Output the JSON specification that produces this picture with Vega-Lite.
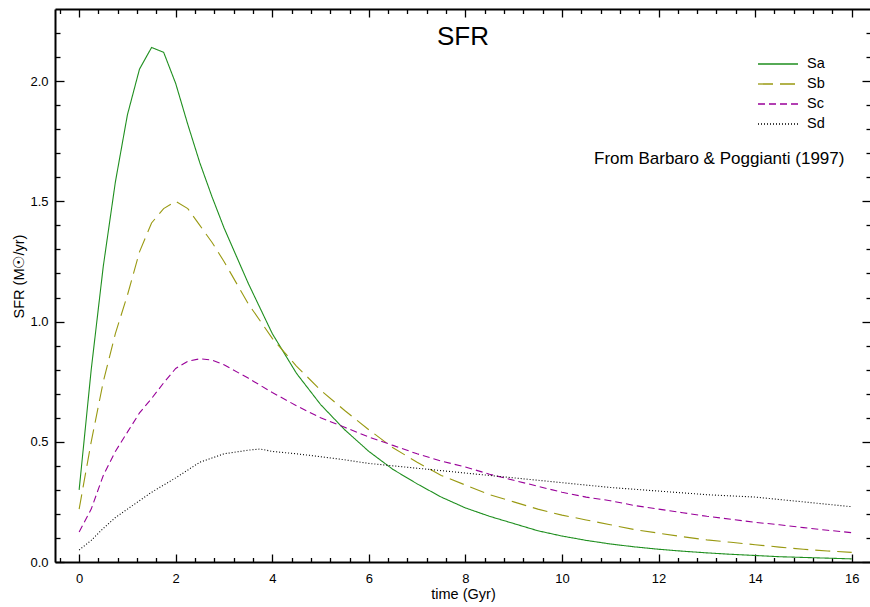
{
  "$schema": "https://vega.github.io/schema/vega-lite/v6.json",
  "width": 816,
  "height": 553,
  "autosize": "none",
  "padding": {"left": 55, "top": 9, "right": 0, "bottom": 45},
  "background": "white",
  "config": {
    "font": "Liberation Sans",
    "view": {"stroke": null},
    "axis": {
      "domainColor": "black",
      "domainWidth": 2,
      "tickColor": "black",
      "tickWidth": 1.3,
      "labelColor": "black",
      "titleColor": "black",
      "labelFontSize": 13,
      "titleFontSize": 14.5,
      "titleFontWeight": "normal",
      "grid": false,
      "labelOverlap": false
    }
  },
  "title": {
    "text": "SFR",
    "fontSize": 26,
    "fontWeight": "normal",
    "anchor": "middle",
    "baseline": "alphabetic",
    "offset": -63,
    "color": "black"
  },
  "data": {
    "values": [
      {"t": 0, "sfr": 0.30, "type": "Sa"},
      {"t": 0.25, "sfr": 0.80, "type": "Sa"},
      {"t": 0.5, "sfr": 1.23, "type": "Sa"},
      {"t": 0.75, "sfr": 1.58, "type": "Sa"},
      {"t": 1.0, "sfr": 1.86, "type": "Sa"},
      {"t": 1.25, "sfr": 2.05, "type": "Sa"},
      {"t": 1.5, "sfr": 2.14, "type": "Sa"},
      {"t": 1.75, "sfr": 2.12, "type": "Sa"},
      {"t": 2.0, "sfr": 1.99, "type": "Sa"},
      {"t": 2.25, "sfr": 1.82, "type": "Sa"},
      {"t": 2.5, "sfr": 1.66, "type": "Sa"},
      {"t": 2.75, "sfr": 1.52, "type": "Sa"},
      {"t": 3.0, "sfr": 1.39, "type": "Sa"},
      {"t": 3.5, "sfr": 1.16, "type": "Sa"},
      {"t": 4.0, "sfr": 0.95, "type": "Sa"},
      {"t": 4.5, "sfr": 0.785, "type": "Sa"},
      {"t": 5.0, "sfr": 0.655, "type": "Sa"},
      {"t": 5.5, "sfr": 0.55, "type": "Sa"},
      {"t": 6.0, "sfr": 0.46, "type": "Sa"},
      {"t": 6.5, "sfr": 0.385, "type": "Sa"},
      {"t": 7.0, "sfr": 0.325, "type": "Sa"},
      {"t": 7.5, "sfr": 0.27, "type": "Sa"},
      {"t": 8.0, "sfr": 0.225, "type": "Sa"},
      {"t": 8.5, "sfr": 0.19, "type": "Sa"},
      {"t": 9.0, "sfr": 0.16, "type": "Sa"},
      {"t": 9.5, "sfr": 0.13, "type": "Sa"},
      {"t": 10.0, "sfr": 0.108, "type": "Sa"},
      {"t": 10.5, "sfr": 0.09, "type": "Sa"},
      {"t": 11.0, "sfr": 0.075, "type": "Sa"},
      {"t": 11.5, "sfr": 0.063, "type": "Sa"},
      {"t": 12.0, "sfr": 0.053, "type": "Sa"},
      {"t": 12.5, "sfr": 0.045, "type": "Sa"},
      {"t": 13.0, "sfr": 0.038, "type": "Sa"},
      {"t": 13.5, "sfr": 0.032, "type": "Sa"},
      {"t": 14.0, "sfr": 0.027, "type": "Sa"},
      {"t": 14.5, "sfr": 0.022, "type": "Sa"},
      {"t": 15.0, "sfr": 0.019, "type": "Sa"},
      {"t": 15.5, "sfr": 0.016, "type": "Sa"},
      {"t": 16.0, "sfr": 0.013, "type": "Sa"},

      {"t": 0, "sfr": 0.22, "type": "Sb"},
      {"t": 0.25, "sfr": 0.50, "type": "Sb"},
      {"t": 0.5, "sfr": 0.75, "type": "Sb"},
      {"t": 0.75, "sfr": 0.95, "type": "Sb"},
      {"t": 1.0, "sfr": 1.11, "type": "Sb"},
      {"t": 1.25, "sfr": 1.29, "type": "Sb"},
      {"t": 1.5, "sfr": 1.41, "type": "Sb"},
      {"t": 1.75, "sfr": 1.47, "type": "Sb"},
      {"t": 2.0, "sfr": 1.50, "type": "Sb"},
      {"t": 2.25, "sfr": 1.47, "type": "Sb"},
      {"t": 2.5, "sfr": 1.40, "type": "Sb"},
      {"t": 2.75, "sfr": 1.33, "type": "Sb"},
      {"t": 3.0, "sfr": 1.25, "type": "Sb"},
      {"t": 3.5, "sfr": 1.075, "type": "Sb"},
      {"t": 4.0, "sfr": 0.93, "type": "Sb"},
      {"t": 4.5, "sfr": 0.815, "type": "Sb"},
      {"t": 5.0, "sfr": 0.715, "type": "Sb"},
      {"t": 5.5, "sfr": 0.63, "type": "Sb"},
      {"t": 6.0, "sfr": 0.55, "type": "Sb"},
      {"t": 6.5, "sfr": 0.475, "type": "Sb"},
      {"t": 7.0, "sfr": 0.415, "type": "Sb"},
      {"t": 7.5, "sfr": 0.36, "type": "Sb"},
      {"t": 8.0, "sfr": 0.32, "type": "Sb"},
      {"t": 8.5, "sfr": 0.28, "type": "Sb"},
      {"t": 9.0, "sfr": 0.25, "type": "Sb"},
      {"t": 9.5, "sfr": 0.22, "type": "Sb"},
      {"t": 10.0, "sfr": 0.195, "type": "Sb"},
      {"t": 10.5, "sfr": 0.175, "type": "Sb"},
      {"t": 11.0, "sfr": 0.155, "type": "Sb"},
      {"t": 11.5, "sfr": 0.135, "type": "Sb"},
      {"t": 12.0, "sfr": 0.12, "type": "Sb"},
      {"t": 12.5, "sfr": 0.105, "type": "Sb"},
      {"t": 13.0, "sfr": 0.092, "type": "Sb"},
      {"t": 13.5, "sfr": 0.082, "type": "Sb"},
      {"t": 14.0, "sfr": 0.072, "type": "Sb"},
      {"t": 14.5, "sfr": 0.062, "type": "Sb"},
      {"t": 15.0, "sfr": 0.053, "type": "Sb"},
      {"t": 15.5, "sfr": 0.046, "type": "Sb"},
      {"t": 16.0, "sfr": 0.04, "type": "Sb"},

      {"t": 0, "sfr": 0.125, "type": "Sc"},
      {"t": 0.25, "sfr": 0.22, "type": "Sc"},
      {"t": 0.5, "sfr": 0.36, "type": "Sc"},
      {"t": 0.75, "sfr": 0.46, "type": "Sc"},
      {"t": 1.0, "sfr": 0.54, "type": "Sc"},
      {"t": 1.25, "sfr": 0.62, "type": "Sc"},
      {"t": 1.5, "sfr": 0.68, "type": "Sc"},
      {"t": 1.75, "sfr": 0.745, "type": "Sc"},
      {"t": 2.0, "sfr": 0.805, "type": "Sc"},
      {"t": 2.25, "sfr": 0.835, "type": "Sc"},
      {"t": 2.5, "sfr": 0.845, "type": "Sc"},
      {"t": 2.75, "sfr": 0.84, "type": "Sc"},
      {"t": 3.0, "sfr": 0.82, "type": "Sc"},
      {"t": 3.5, "sfr": 0.765, "type": "Sc"},
      {"t": 4.0, "sfr": 0.705, "type": "Sc"},
      {"t": 4.5, "sfr": 0.65, "type": "Sc"},
      {"t": 5.0, "sfr": 0.60, "type": "Sc"},
      {"t": 5.5, "sfr": 0.56, "type": "Sc"},
      {"t": 6.0, "sfr": 0.52, "type": "Sc"},
      {"t": 6.5, "sfr": 0.485, "type": "Sc"},
      {"t": 7.0, "sfr": 0.45, "type": "Sc"},
      {"t": 7.5, "sfr": 0.42, "type": "Sc"},
      {"t": 8.0, "sfr": 0.395, "type": "Sc"},
      {"t": 8.5, "sfr": 0.365, "type": "Sc"},
      {"t": 9.0, "sfr": 0.34, "type": "Sc"},
      {"t": 9.5, "sfr": 0.315, "type": "Sc"},
      {"t": 10.0, "sfr": 0.29, "type": "Sc"},
      {"t": 10.5, "sfr": 0.27, "type": "Sc"},
      {"t": 11.0, "sfr": 0.255, "type": "Sc"},
      {"t": 11.5, "sfr": 0.235, "type": "Sc"},
      {"t": 12.0, "sfr": 0.22, "type": "Sc"},
      {"t": 12.5, "sfr": 0.205, "type": "Sc"},
      {"t": 13.0, "sfr": 0.19, "type": "Sc"},
      {"t": 13.5, "sfr": 0.178, "type": "Sc"},
      {"t": 14.0, "sfr": 0.165, "type": "Sc"},
      {"t": 14.5, "sfr": 0.155, "type": "Sc"},
      {"t": 15.0, "sfr": 0.143, "type": "Sc"},
      {"t": 15.5, "sfr": 0.132, "type": "Sc"},
      {"t": 16.0, "sfr": 0.122, "type": "Sc"},

      {"t": 0, "sfr": 0.05, "type": "Sd"},
      {"t": 0.25, "sfr": 0.09, "type": "Sd"},
      {"t": 0.5, "sfr": 0.14, "type": "Sd"},
      {"t": 0.75, "sfr": 0.185, "type": "Sd"},
      {"t": 1.0, "sfr": 0.22, "type": "Sd"},
      {"t": 1.5, "sfr": 0.29, "type": "Sd"},
      {"t": 2.0, "sfr": 0.35, "type": "Sd"},
      {"t": 2.5, "sfr": 0.415, "type": "Sd"},
      {"t": 3.0, "sfr": 0.45, "type": "Sd"},
      {"t": 3.5, "sfr": 0.465, "type": "Sd"},
      {"t": 3.75, "sfr": 0.47, "type": "Sd"},
      {"t": 4.0, "sfr": 0.46, "type": "Sd"},
      {"t": 4.5, "sfr": 0.45, "type": "Sd"},
      {"t": 5.0, "sfr": 0.438, "type": "Sd"},
      {"t": 5.5, "sfr": 0.425, "type": "Sd"},
      {"t": 6.0, "sfr": 0.41, "type": "Sd"},
      {"t": 7.0, "sfr": 0.39, "type": "Sd"},
      {"t": 8.0, "sfr": 0.37, "type": "Sd"},
      {"t": 9.0, "sfr": 0.35, "type": "Sd"},
      {"t": 10.0, "sfr": 0.33, "type": "Sd"},
      {"t": 11.0, "sfr": 0.31, "type": "Sd"},
      {"t": 12.0, "sfr": 0.295, "type": "Sd"},
      {"t": 13.0, "sfr": 0.28, "type": "Sd"},
      {"t": 14.0, "sfr": 0.27, "type": "Sd"},
      {"t": 15.0, "sfr": 0.25, "type": "Sd"},
      {"t": 16.0, "sfr": 0.23, "type": "Sd"}
    ]
  },
  "layer": [
    {
      "mark": {"type": "line", "strokeWidth": 1.1},
      "encoding": {
        "x": {
          "field": "t",
          "type": "quantitative",
          "scale": {"domain": [-0.5, 16.4], "nice": false, "zero": false},
          "axis": {
            "orient": "bottom",
            "title": "time (Gyr)",
            "titlePadding": -1,
            "values": [-0.4,0,0.4,0.8,1.2,1.6,2,2.4,2.8,3.2,3.6,4,4.4,4.8,5.2,5.6,6,6.4,6.8,7.2,7.6,8,8.4,8.8,9.2,9.6,10,10.4,10.8,11.2,11.6,12,12.4,12.8,13.2,13.6,14,14.4,14.8,15.2,15.6,16],
            "labelExpr": "abs(datum.value/2 - round(datum.value/2)) < 0.001 ? format(datum.value, 'd') : ''",
            "tickSize": {"condition": {"test": "abs(datum.value/2 - round(datum.value/2)) < 0.001", "value": -8}, "value": -4.5},
            "labelPadding": 18
          }
        },
        "y": {
          "field": "sfr",
          "type": "quantitative",
          "scale": {"domain": [0, 2.3], "nice": false},
          "axis": {
            "orient": "left",
            "title": "SFR (M☉/yr)",
            "titleX": -36,
            "titleY": 267,
            "titleBaseline": "middle",
            "values": [0,0.1,0.2,0.3,0.4,0.5,0.6,0.7,0.8,0.9,1,1.1,1.2,1.3,1.4,1.5,1.6,1.7,1.8,1.9,2,2.1,2.2],
            "labelExpr": "abs(datum.value*2 - round(datum.value*2)) < 0.001 ? format(datum.value, '.1f') : ''",
            "tickSize": {"condition": {"test": "abs(datum.value*2 - round(datum.value*2)) < 0.001", "value": -9}, "value": -5},
            "labelPadding": 16
          }
        },
        "color": {
          "field": "type",
          "type": "nominal",
          "scale": {"domain": ["Sa", "Sb", "Sc", "Sd"], "range": ["#1f8f1f", "#999911", "#990099", "#000000"]},
          "legend": {
            "title": null,
            "orient": "none",
            "legendX": 712,
            "legendY": 44,
            "symbolType": "M-2,0H2",
            "symbolSize": 400,
            "symbolStrokeWidth": 1.3,
            "labelFontSize": 14.5,
            "labelColor": "black",
            "labelOffset": 18,
            "rowPadding": 2
          }
        },
        "strokeDash": {
          "field": "type",
          "type": "nominal",
          "scale": {"domain": ["Sa", "Sb", "Sc", "Sd"], "range": [[1, 0], [15, 7], [7, 4], [1, 2]]},
          "legend": {
            "title": null,
            "orient": "none",
            "legendX": 712,
            "legendY": 44,
            "symbolType": "M-2,0H2",
            "symbolSize": 400,
            "symbolStrokeWidth": 1.3,
            "labelFontSize": 14.5,
            "labelColor": "black",
            "labelOffset": 18,
            "rowPadding": 2
          }
        }
      }
    },
    {
      "data": {"values": [{"note": "From Barbaro & Poggianti (1997)"}]},
      "mark": {"type": "text", "align": "right", "baseline": "middle", "fontSize": 17, "color": "black"},
      "encoding": {
        "text": {"field": "note", "type": "nominal"},
        "x": {
          "datum": 15.85,
          "type": "quantitative",
          "axis": {
            "orient": "top",
            "title": null,
            "labels": false,
            "values": [-0.4,0,0.4,0.8,1.2,1.6,2,2.4,2.8,3.2,3.6,4,4.4,4.8,5.2,5.6,6,6.4,6.8,7.2,7.6,8,8.4,8.8,9.2,9.6,10,10.4,10.8,11.2,11.6,12,12.4,12.8,13.2,13.6,14,14.4,14.8,15.2,15.6,16],
            "tickSize": {"condition": {"test": "abs(datum.value/2 - round(datum.value/2)) < 0.001", "value": -8}, "value": -4.5}
          }
        },
        "y": {
          "datum": 1.677,
          "type": "quantitative",
          "axis": {
            "orient": "right",
            "title": null,
            "labels": false,
            "values": [0,0.1,0.2,0.3,0.4,0.5,0.6,0.7,0.8,0.9,1,1.1,1.2,1.3,1.4,1.5,1.6,1.7,1.8,1.9,2,2.1,2.2],
            "tickSize": {"condition": {"test": "abs(datum.value*2 - round(datum.value*2)) < 0.001", "value": -9}, "value": -5}
          }
        }
      }
    }
  ],
  "resolve": {"axis": {"x": "independent", "y": "independent"}}
}
